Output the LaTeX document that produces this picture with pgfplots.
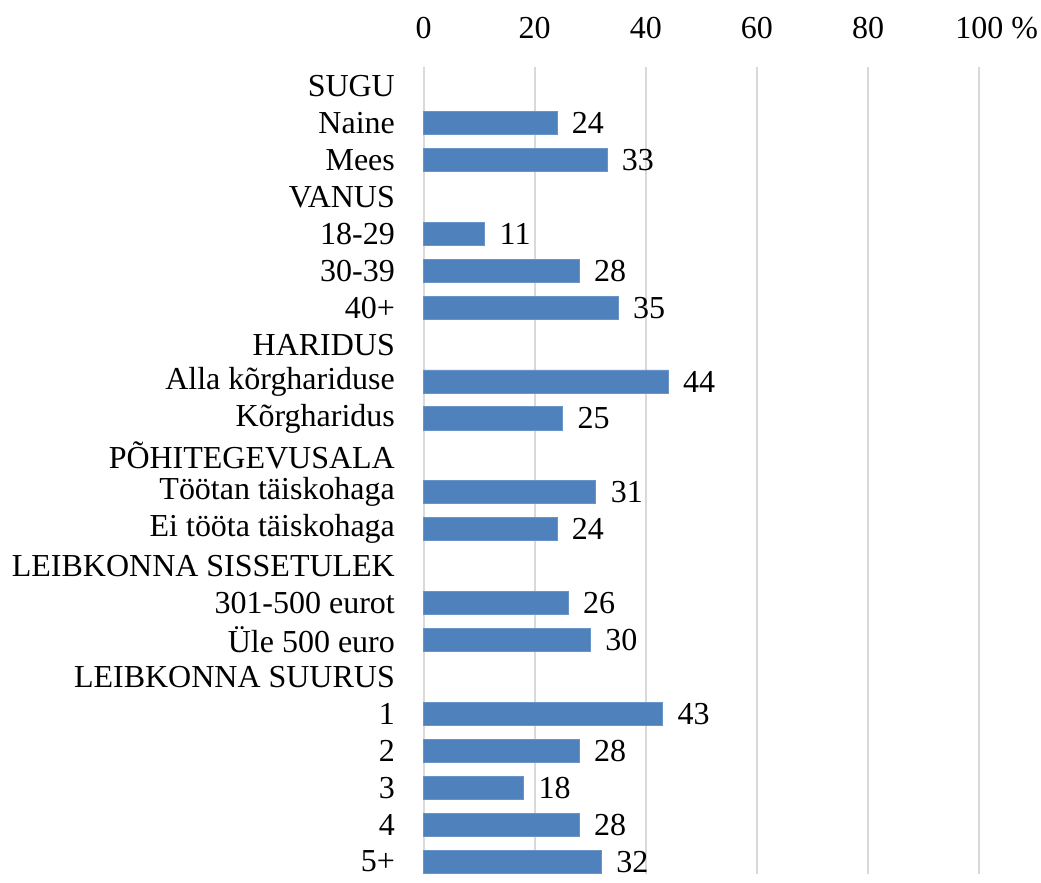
\documentclass[border=0pt]{standalone}
\usepackage{fontspec}
\setmainfont{Liberation Serif}
\usepackage{pgfplots}
\pgfplotsset{compat=1.18}
\definecolor{barblue}{HTML}{4F81BD}
\definecolor{gridgray}{HTML}{D9D9D9}
\begin{document}
\fontsize{16bp}{19bp}\selectfont
\begin{tikzpicture}
\begin{axis}[
  scale only axis, width=278bp, height=403.5bp,
  xmin=0, xmax=100, ymin=-0.514, ymax=21.33, y dir=reverse,
  axis line style={draw=none},
  tick style={draw=none}, major tick length=0pt,
  xticklabel pos=upper,
  xtick={0,20,40,60,80,100},
  xticklabels={0,20,40,60,80,{100\rlap{ \%}}},
  xticklabel style={yshift=8.5bp},
  xmajorgrids, grid style={gridgray, line width=1bp},
  ytick={0,...,21},
  yticklabels={SUGU,Naine,Mees,VANUS,18-29,30-39,40+,HARIDUS,Alla kõrghariduse,Kõrgharidus,PÕHITEGEVUSALA,Töötan täiskohaga,Ei tööta täiskohaga,LEIBKONNA SISSETULEK,301-500 eurot,Üle 500 euro,LEIBKONNA SUURUS,1,2,3,4,5+},
  yticklabel style={xshift=-8.8bp},
  xbar, bar width=11.6bp,
  nodes near coords,
  nodes near coords style={anchor=west, xshift=2bp, text=black},
  /pgf/number format/assume math mode=true,
  clip=false,
]
\addplot[fill=barblue, draw=barblue!85!white, line width=0.4bp] coordinates {
(24,1) (33,2) (11,4) (28,5) (35,6) (44,8) (25,9) (31,11) (24,12) (26,14) (30,15) (43,17) (28,18) (18,19) (28,20) (32,21)
};
\path (axis cs:-76.2,-2.33) rectangle (axis cs:111.1,21.33);
\end{axis}
\end{tikzpicture}
\end{document}
